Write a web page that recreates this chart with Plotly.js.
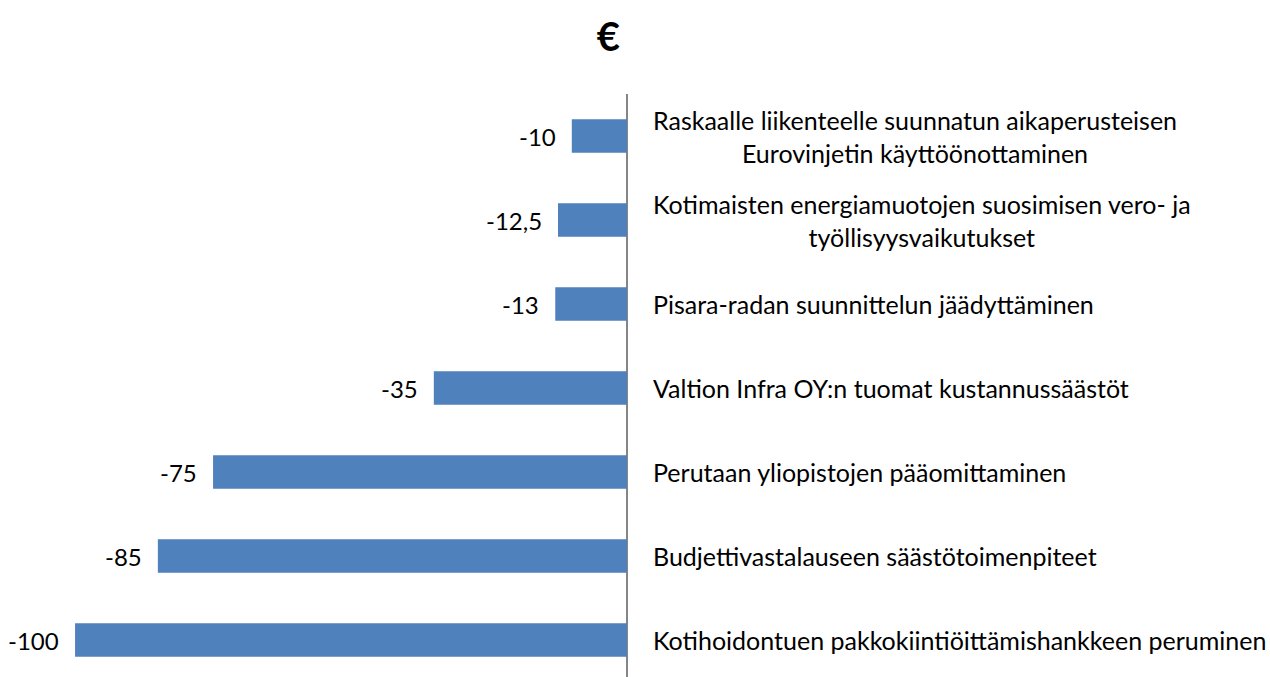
<!DOCTYPE html>
<html>
<head>
<meta charset="utf-8">
<script src="https://cdn.plot.ly/plotly-3.0.1.min.js"></script>
<style>
  html, body { margin: 0; padding: 0; background: #fff; }
  #chart { width: 1270px; height: 677px; }
</style>
</head>
<body>
<div id="chart"></div>
<script>
// --- data (top to bottom) ---
const categories = [
  "Raskaalle liikenteelle suunnatun aikaperusteisen<br>Eurovinjetin käyttöönottaminen",
  "Kotimaisten energiamuotojen suosimisen vero- ja<br>työllisyysvaikutukset",
  "Pisara-radan suunnittelun jäädyttäminen",
  "Valtion Infra OY:n tuomat kustannussäästöt",
  "Perutaan yliopistojen pääomittaminen",
  "Budjettivastalauseen säästötoimenpiteet",
  "Kotihoidontuen pakkokiintiöittämishankkeen peruminen"
];
const values = [-10, -12.5, -13, -35, -75, -85, -100];
const valueLabels = values.map(v => String(v).replace('.', ','));

const fontFamily = 'Lato, "Open Sans", sans-serif';

const trace = {
  type: 'bar',
  orientation: 'h',
  x: values,
  y: categories,
  marker: { color: '#4F81BD' },
  hoverinfo: 'none'
};

// category labels to the right of the zero line, value labels left of bars
const annotations = [];
categories.forEach((c, i) => {
  annotations.push({
    x: 0, y: c, xref: 'x', yref: 'y',
    text: c, showarrow: false,
    xanchor: 'left', align: 'center', xshift: 24,
    font: { family: fontFamily, size: 25, color: '#000' }
  });
  annotations.push({
    x: values[i], y: c, xref: 'x', yref: 'y',
    text: valueLabels[i], showarrow: false,
    xanchor: 'right', xshift: -14,
    font: { family: fontFamily, size: 24, color: '#000' }
  });
});

const layout = {
  width: 1270,
  height: 677,
  margin: { l: 0, r: 0, t: 94, b: 0 },
  paper_bgcolor: '#fff',
  plot_bgcolor: '#fff',
  title: {
    text: '<b>€</b>',
    x: 0.479, xanchor: 'center',
    y: 0.945, yanchor: 'middle',
    font: { family: fontFamily, size: 40, color: '#000' }
  },
  bargap: 0.6,
  showlegend: false,
  xaxis: {
    range: [-113.6, 116.5],
    showgrid: false,
    showticklabels: false,
    ticks: '',
    zeroline: true,
    zerolinecolor: '#868686',
    zerolinewidth: 1.5,
    fixedrange: true
  },
  yaxis: {
    type: 'category',
    range: [6.44, -0.5],
    showgrid: false,
    showticklabels: false,
    ticks: '',
    zeroline: false,
    fixedrange: true
  },
  annotations: annotations
};

Plotly.newPlot('chart', [trace], layout, { displayModeBar: false, staticPlot: true });
</script>
</body>
</html>
